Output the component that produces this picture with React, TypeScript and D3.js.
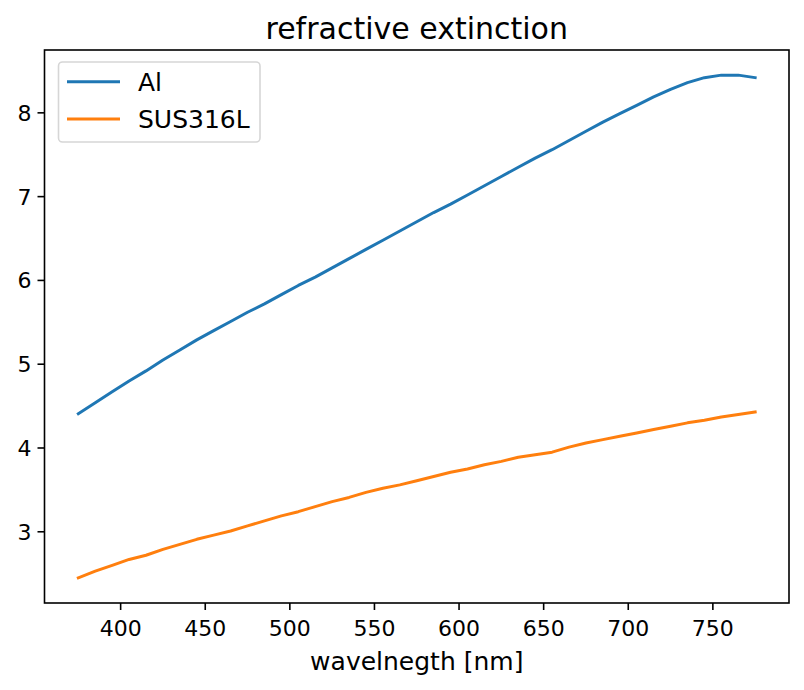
import * as d3 from "d3";

const wavelengths = [
  375, 385, 395, 405, 415, 425, 435, 445, 455, 465, 475, 485, 495, 505, 515,
  525, 535, 545, 555, 565, 575, 585, 595, 605, 615, 625, 635, 645, 655, 665,
  675, 685, 695, 705, 715, 725, 735, 745, 755, 765, 775,
];

const alK = [
  4.41, 4.54, 4.67, 4.8, 4.92, 5.05, 5.17, 5.29, 5.4, 5.51, 5.62, 5.72, 5.83,
  5.94, 6.04, 6.15, 6.26, 6.37, 6.48, 6.59, 6.7, 6.81, 6.91, 7.02, 7.13, 7.24,
  7.35, 7.46, 7.56, 7.67, 7.78, 7.89, 7.99, 8.09, 8.19, 8.28, 8.36, 8.42, 8.45,
  8.45, 8.42,
];

const susK = [
  2.45, 2.53, 2.6, 2.67, 2.72, 2.79, 2.85, 2.91, 2.96, 3.01, 3.07, 3.13, 3.19,
  3.24, 3.3, 3.36, 3.41, 3.47, 3.52, 3.56, 3.61, 3.66, 3.71, 3.75, 3.8, 3.84,
  3.89, 3.92, 3.95, 4.01, 4.06, 4.1, 4.14, 4.18, 4.22, 4.26, 4.3, 4.33, 4.37,
  4.4, 4.43,
];

const series = [
  { name: "Al", values: alK, color: "#1f77b4" },
  { name: "SUS316L", values: susK, color: "#ff7f0e" },
];

const xTicks = [400, 450, 500, 550, 600, 650, 700, 750];
const yTicks = [3, 4, 5, 6, 7, 8];

const W = 804;
const H = 690;
const M = { left: 44.5, right: 789, top: 50, bottom: 603 };
const FONT = "DejaVu Sans, sans-serif";

// matplotlib-style 5% margins
function padded(lo: number, hi: number): [number, number] {
  const d = (hi - lo) * 0.05;
  return [lo - d, hi + d];
}

export default function App() {
  const xExt = d3.extent(wavelengths) as [number, number];
  const all = [...alK, ...susK];
  const yExt = d3.extent(all) as [number, number];

  const x = d3.scaleLinear().domain(padded(...xExt)).range([M.left, M.right]);
  const y = d3.scaleLinear().domain(padded(...yExt)).range([M.bottom, M.top]);

  const line = d3
    .line<number>()
    .x((_, i) => x(wavelengths[i]))
    .y((d) => y(d));

  return (
    <svg
      width={W}
      height={H}
      style={{ position: "absolute", left: 0, top: 0, background: "#fff" }}
      fontFamily={FONT}
    >
      <rect width={W} height={H} fill="#fff" />
      <text
        x={(M.left + M.right) / 2}
        y={39}
        textAnchor="middle"
        fontSize={30}
        fill="#000"
      >
        refractive extinction
      </text>

      {series.map((s) => (
        <path
          key={s.name}
          d={line(s.values) ?? ""}
          fill="none"
          stroke={s.color}
          strokeWidth={3}
          strokeLinejoin="round"
          strokeLinecap="square"
        />
      ))}

      {/* spines */}
      <rect
        x={M.left}
        y={M.top}
        width={M.right - M.left}
        height={M.bottom - M.top}
        fill="none"
        stroke="#000"
        strokeWidth={1.6}
      />

      {xTicks.map((t) => (
        <g key={t} transform={`translate(${x(t)},${M.bottom})`}>
          <line y2={7} stroke="#000" strokeWidth={1.6} />
          <text y={33} textAnchor="middle" fontSize={22} fill="#000">
            {t}
          </text>
        </g>
      ))}
      {yTicks.map((t) => (
        <g key={t} transform={`translate(${M.left},${y(t)})`}>
          <line x2={-7} stroke="#000" strokeWidth={1.6} />
          <text x={-13} dy="0.36em" textAnchor="end" fontSize={22} fill="#000">
            {t}
          </text>
        </g>
      ))}

      <text
        x={(M.left + M.right) / 2}
        y={670}
        textAnchor="middle"
        fontSize={25}
        fill="#000"
      >
        wavelnegth [nm]
      </text>

      {/* legend */}
      <g>
        <rect
          x={58.5}
          y={62}
          width={201.5}
          height={80}
          rx={4}
          fill="#fff"
          fillOpacity={0.8}
          stroke="#d6d6d6"
          strokeWidth={1.6}
        />
        {series.map((s, i) => (
          <g key={s.name} transform={`translate(0,${81.7 + i * 37.3})`}>
            <line x1={67} x2={120} stroke={s.color} strokeWidth={3} />
            <text x={138} dy="0.36em" fontSize={25} fill="#000">
              {s.name}
            </text>
          </g>
        ))}
      </g>
    </svg>
  );
}
